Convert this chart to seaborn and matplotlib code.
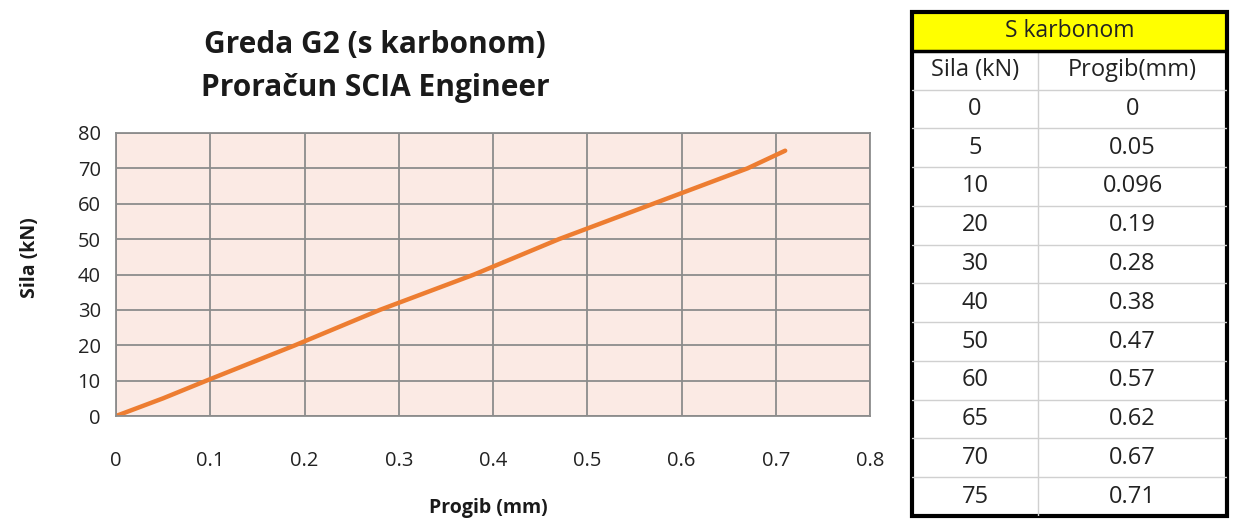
import pandas as pd
import matplotlib.pyplot as plt
import seaborn as sns
from matplotlib.patches import Rectangle

# Data from the table
sila = [0, 5, 10, 20, 30, 40, 50, 60, 65, 70, 75]
progib = [0, 0.05, 0.096, 0.19, 0.28, 0.38, 0.47, 0.57, 0.62, 0.67, 0.71]
sila_labels = ["0", "5", "10", "20", "30", "40", "50", "60", "65", "70", "75"]
progib_labels = ["0", "0.05", "0.096", "0.19", "0.28", "0.38", "0.47", "0.57", "0.62", "0.67", "0.71"]
x_ticks = [0, 0.1, 0.2, 0.3, 0.4, 0.5, 0.6, 0.7, 0.8]
y_ticks = [0, 10, 20, 30, 40, 50, 60, 70, 80]

df = pd.DataFrame({"Progib": progib, "Sila": sila})

sns.set_style("white")
plt.rcParams["font.family"] = ["Open Sans", "DejaVu Sans"]

fig = plt.figure(figsize=(12.34, 5.19), dpi=100)

# 1. Chart
ax = fig.add_axes([116 / 1234, 103 / 519, 754 / 1234, 283 / 519])
ax.set_facecolor("#FBEAE4")
sns.lineplot(data=df, x="Progib", y="Sila", sort=False, color="#ED7D31", linewidth=3.2, ax=ax)
ax.set_xlim(0, 0.8)
ax.set_ylim(0, 80)
ax.set_xticks(x_ticks)
ax.set_yticks(y_ticks)
ax.set_xticklabels([f"{t:g}" for t in x_ticks])
ax.grid(True, color="#8C8C8C", linewidth=1.3)
for s in ax.spines.values():
    s.set_color("#8C8C8C")
    s.set_linewidth(1.3)
ax.tick_params(axis="x", length=0, pad=25, labelsize=14.5, colors="#222222")
ax.tick_params(axis="y", length=0, pad=11, labelsize=14.5, colors="#222222")
ax.set_xlabel("")
ax.set_ylabel("")

fig.text(375 / 1234, 1 - 45 / 519, "Greda G2 (s karbonom)", ha="center", va="center",
         fontsize=21.5, fontweight="bold", color="#1a1a1a")
fig.text(375 / 1234, 1 - 88 / 519, "Proračun SCIA Engineer", ha="center", va="center",
         fontsize=21.5, fontweight="bold", color="#1a1a1a")
fig.text(488 / 1234, 1 - 508 / 519, "Progib (mm)", ha="center", va="center",
         fontsize=14, fontweight="bold", color="#1a1a1a")
fig.text(30 / 1234, 1 - 258 / 519, "Sila (kN)", ha="center", va="center", rotation=90,
         fontsize=14, fontweight="bold", color="#1a1a1a")

# 2. Table
tab = fig.add_axes([912 / 1234, 3 / 519, 315 / 1234, 504 / 519])
tab.set_xlim(0, 315)
tab.set_ylim(13, 0)
tab.axis("off")
split = 126
tab.add_patch(Rectangle((0, 0), 315, 1, facecolor="#FFFF00", edgecolor="none"))
for r in range(2, 13):
    tab.plot([0, 315], [r, r], color="#D0D0D0", linewidth=1)
tab.plot([split, split], [1, 13], color="#D0D0D0", linewidth=1)
tab.plot([0, 315], [1, 1], color="black", linewidth=2.5)
tab.add_patch(Rectangle((0, 0), 315, 13, facecolor="none", edgecolor="black", linewidth=3, clip_on=False))

tab.text(157.5, 0.5, "S karbonom", ha="center", va="center", fontsize=16.5, color="#222222")
tab.text(split / 2, 1.5, "Sila (kN)", ha="center", va="center", fontsize=17, color="#222222")
tab.text((split + 315) / 2, 1.5, "Progib(mm)", ha="center", va="center", fontsize=17, color="#222222")
for i, (a, b) in enumerate(zip(sila_labels, progib_labels)):
    tab.text(split / 2, 2.5 + i, a, ha="center", va="center", fontsize=17, color="#222222")
    tab.text((split + 315) / 2, 2.5 + i, b, ha="center", va="center", fontsize=17, color="#222222")

plt.savefig("out.png", dpi=100)
